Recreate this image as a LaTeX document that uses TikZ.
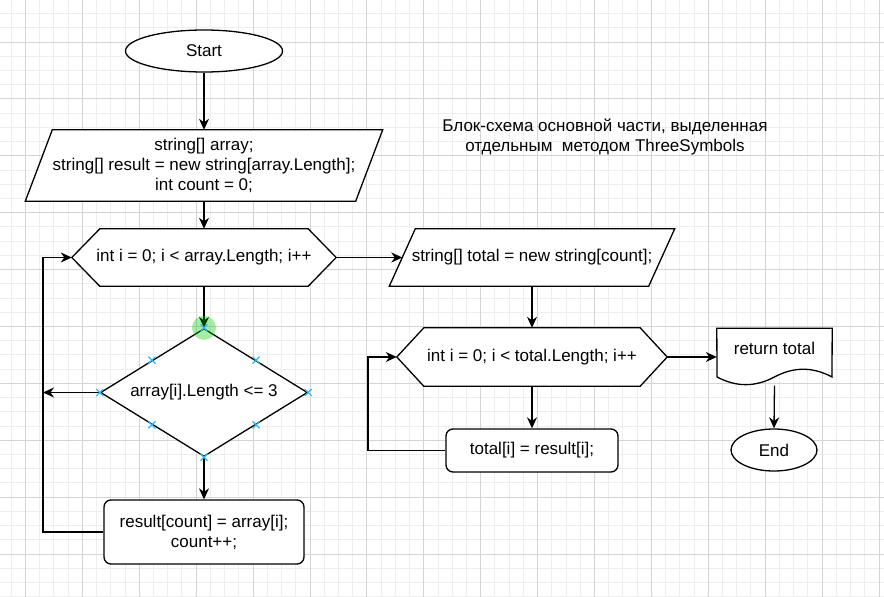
\documentclass[tikz,border=0pt]{standalone}
\usepackage{fontspec}
\setmainfont{Liberation Sans}
\usetikzlibrary{shapes,arrows.meta,calc}
\pgfdeclarelayer{background}
\pgfsetlayers{background,main}
\definecolor{gridlight}{RGB}{238,238,238}
\definecolor{griddark}{RGB}{212,212,212}
\definecolor{markblue}{RGB}{41,182,242}
\definecolor{hovergreen}{RGB}{0,200,0}
\tikzset{base/.style={font=\fontsize{17}{20}\selectfont, inner sep=0pt, align=center},
  terminal/.style={base, ellipse, draw, fill=white, line width=1.3pt},
  procbox/.style={base, rectangle, rounded corners=7pt, draw, fill=white, line width=1.3pt},
  cond/.style={base, diamond, aspect=1.6, draw, fill=white, line width=1.3pt},
  plainbox/.style={base, rectangle},
  outline/.style={draw, fill=white, line width=1.3pt},
  arr/.style={line width=1.3pt, -{Stealth[length=11pt,width=10pt,inset=3.5pt]}},
  gridminor/.style={line width=1pt, draw=gridlight},
  gridmajor/.style={line width=1pt, draw=griddark},
  conmark/.style={line width=1.2pt, draw=markblue}}
% outlines drawn round plain nodes
\newcommand{\hexout}[2]{\draw[outline] (#1.west) -- ([xshift=#2]#1.north west) -- ([xshift=-#2]#1.north east) -- (#1.east) -- ([xshift=-#2]#1.south east) -- ([xshift=#2]#1.south west) -- cycle;}
\newcommand{\parout}[2]{\draw[outline] ([xshift=#2]#1.north west) -- (#1.north east) -- ([xshift=-#2]#1.south east) -- (#1.south west) -- cycle;}
\newcommand{\conpt}[1]{\draw[conmark] ([shift={(-3.5pt,-3.5pt)}]#1) -- ++(7pt,7pt) ([shift={(-3.5pt,3.5pt)}]#1) -- ++(7pt,-7pt);}

\begin{document}
\begin{tikzpicture}[x=1pt,y=-1pt]
\useasboundingbox (0,0) rectangle (884,597);

\node[terminal, minimum width=157, minimum height=42] (start) at (204,51) {Start};
\node[plainbox, minimum width=357, minimum height=71] (init) at (204,165.5) {string[] array;\\string[] result = new string[array.Length];\\int count = 0;};
\node[plainbox, minimum width=264, minimum height=57] (loopA) at (204,257.5) {int i = 0; i < array.Length; i++};
\node[cond, minimum width=207, minimum height=128] (check) at (204,392.5) {array[i].Length <= 3};
\node[procbox, minimum width=200, minimum height=64] (store) at (204,532) {result[count] = array[i];\\count++;};

\node[plainbox, minimum width=285, minimum height=57] (alloc) at (532,257.5) {string[] total = new string[count];};
\node[plainbox, minimum width=270, minimum height=58] (loopB) at (532,357) {int i = 0; i < total.Length; i++};
\node[procbox, minimum width=172, minimum height=43] (copy) at (532,450.5) {total[i] = result[i];};
\node[plainbox, minimum width=115, minimum height=57] (ret) at (774.5,357) {\raisebox{18pt}{return total}};
\node[terminal, minimum width=86, minimum height=42] (stop) at (774,450) {End};

\node[base] (title) at (605,137) {Блок-схема основной части, выделенная\\отдельным~ методом ThreeSymbols};

\begin{pgfonlayer}{background}
\foreach \k in {-1,...,60} {\draw[gridminor] ({25.5+14.225*\k},0) -- ++(0,597);}
\foreach \k in {-2,...,39} {\draw[gridminor] (0,{42+14.225*\k}) -- ++(884,0);}
\foreach \k in {0,...,15} {\draw[gridmajor] ({25.5+56.9*\k},0) -- ++(0,597);}
\foreach \k in {0,...,9} {\draw[gridmajor] (0,{42+56.9*\k}) -- ++(884,0);}
\parout{init}{27}
\hexout{loopA}{28}
\parout{alloc}{26}
\hexout{loopB}{27}
\draw[outline] (ret.north west) -- (ret.north east) -- (832,376.95)
  .. controls (812.83,366.69) and (793.67,366.69) .. (774.5,376.95)
  .. controls (755.33,387.21) and (736.17,387.21) .. (717,376.95) -- cycle;
\end{pgfonlayer}

\coordinate (backA) at (43,392.5);
\coordinate (backB) at (368,450.5);
\draw[arr] (start) -- (init);
\draw[arr] (init) -- (loopA);
\draw[arr] (loopA.south) -- (check.north);
\draw[arr] (check.south) -- (store.north);
\draw[arr] (check.west) -- (backA);
\draw[arr] (store.west) -| (backA) |- (loopA.west);
\draw[arr] (loopA.east) -- ([xshift=13pt]alloc.west);
\draw[arr] (alloc.south) -- (loopB.north);
\draw[arr] (loopB.south) -- (copy.north);
\draw[arr] (copy.west) -- (backB) |- (loopB.west);
\draw[arr] (loopB.east) -- (ret.west);
\draw[arr] (ret.south) -- (stop.north);

% hover marks on the condition
\fill[hovergreen, opacity=0.35] (check.north) circle (12pt);
\foreach \p in {north,south,east,west} {\conpt{check.\p}}
\conpt{$(check.north)!.5!(check.west)$}
\conpt{$(check.north)!.5!(check.east)$}
\conpt{$(check.south)!.5!(check.west)$}
\conpt{$(check.south)!.5!(check.east)$}
\end{tikzpicture}
\end{document}
